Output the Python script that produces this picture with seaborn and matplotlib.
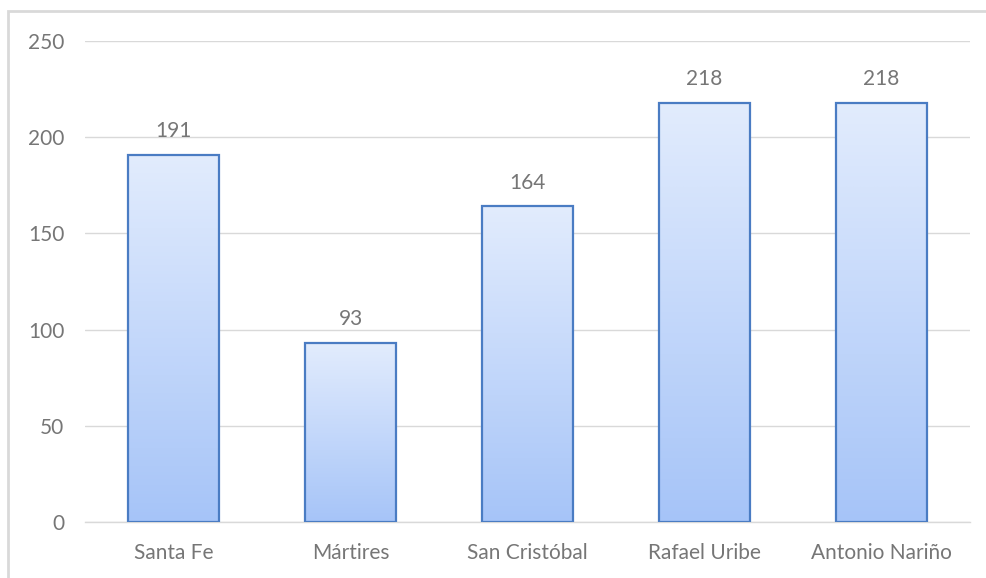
import numpy as np
import pandas as pd
import matplotlib
matplotlib.use("Agg")
import matplotlib.pyplot as plt
from matplotlib.patches import Rectangle
from matplotlib.colors import LinearSegmentedColormap
import seaborn as sns

categories = ["Santa Fe", "Mártires", "San Cristóbal", "Rafael Uribe", "Antonio Nariño"]
values = [191, 93, 164, 218, 218]
y_ticks = [0, 50, 100, 150, 200, 250]

sns.set_theme(style="white")
plt.rcParams['font.family'] = ['Lato', 'DejaVu Sans']

W, H = 987, 578
fig = plt.figure(figsize=(W / 100, H / 100), dpi=100)
ax = fig.add_axes([85 / W, (H - 522) / H, (970 - 85) / W, (522 - 41) / H])

df = pd.DataFrame({"cat": categories, "val": values})
sns.barplot(data=df, x="cat", y="val", ax=ax, width=0.51,
            facecolor="none", edgecolor="#4A7CC3", linewidth=1.6, zorder=3)

ax.set_ylim(0, 250)
ax.set_xlim(-0.5, len(categories) - 0.5)
ax.set_yticks(y_ticks)
ax.set_yticklabels([str(t) for t in y_ticks])
ax.grid(axis="y", color="#D9D9D9", linewidth=1.0, zorder=0)
ax.set_axisbelow(True)
for s in ["top", "right", "left"]:
    ax.spines[s].set_visible(False)
ax.spines["bottom"].set_color("#D9D9D9")
ax.spines["bottom"].set_linewidth(1.0)
ax.set_xlabel("")
ax.set_ylabel("")
txt_color = "#767676"
fs = 15
ax.tick_params(axis="both", length=0, colors=txt_color, labelsize=fs)
ax.tick_params(axis="y", pad=15)
ax.tick_params(axis="x", pad=15)

cmap = LinearSegmentedColormap.from_list("g", ["#A6C4F8", "#E2ECFD"])
grad = np.linspace(0, 1, 256).reshape(-1, 1)
for patch, v in zip(ax.patches, values):
    x0 = patch.get_x()
    w = patch.get_width()
    h = patch.get_height()
    im = ax.imshow(grad, extent=[x0, x0 + w, 0, h], origin="lower",
                   cmap=cmap, aspect="auto", zorder=2, interpolation="bicubic")
    im.set_clip_path(patch)
    ax.annotate(str(v), (x0 + w / 2, h), xytext=(0, 10), textcoords="offset points",
                ha="center", va="bottom", color=txt_color, fontsize=fs)

ax.set_xlim(-0.5, len(categories) - 0.5)
ax.set_ylim(0, 250)

# outer chart frame (left and top visible)
fig.patches.append(Rectangle((8.5 / W, -0.05), 1.2, (H - 11) / H + 0.05,
                             transform=fig.transFigure, fill=False,
                             edgecolor="#D9D9D9", linewidth=2.0))

fig.savefig("out.png", dpi=100)
